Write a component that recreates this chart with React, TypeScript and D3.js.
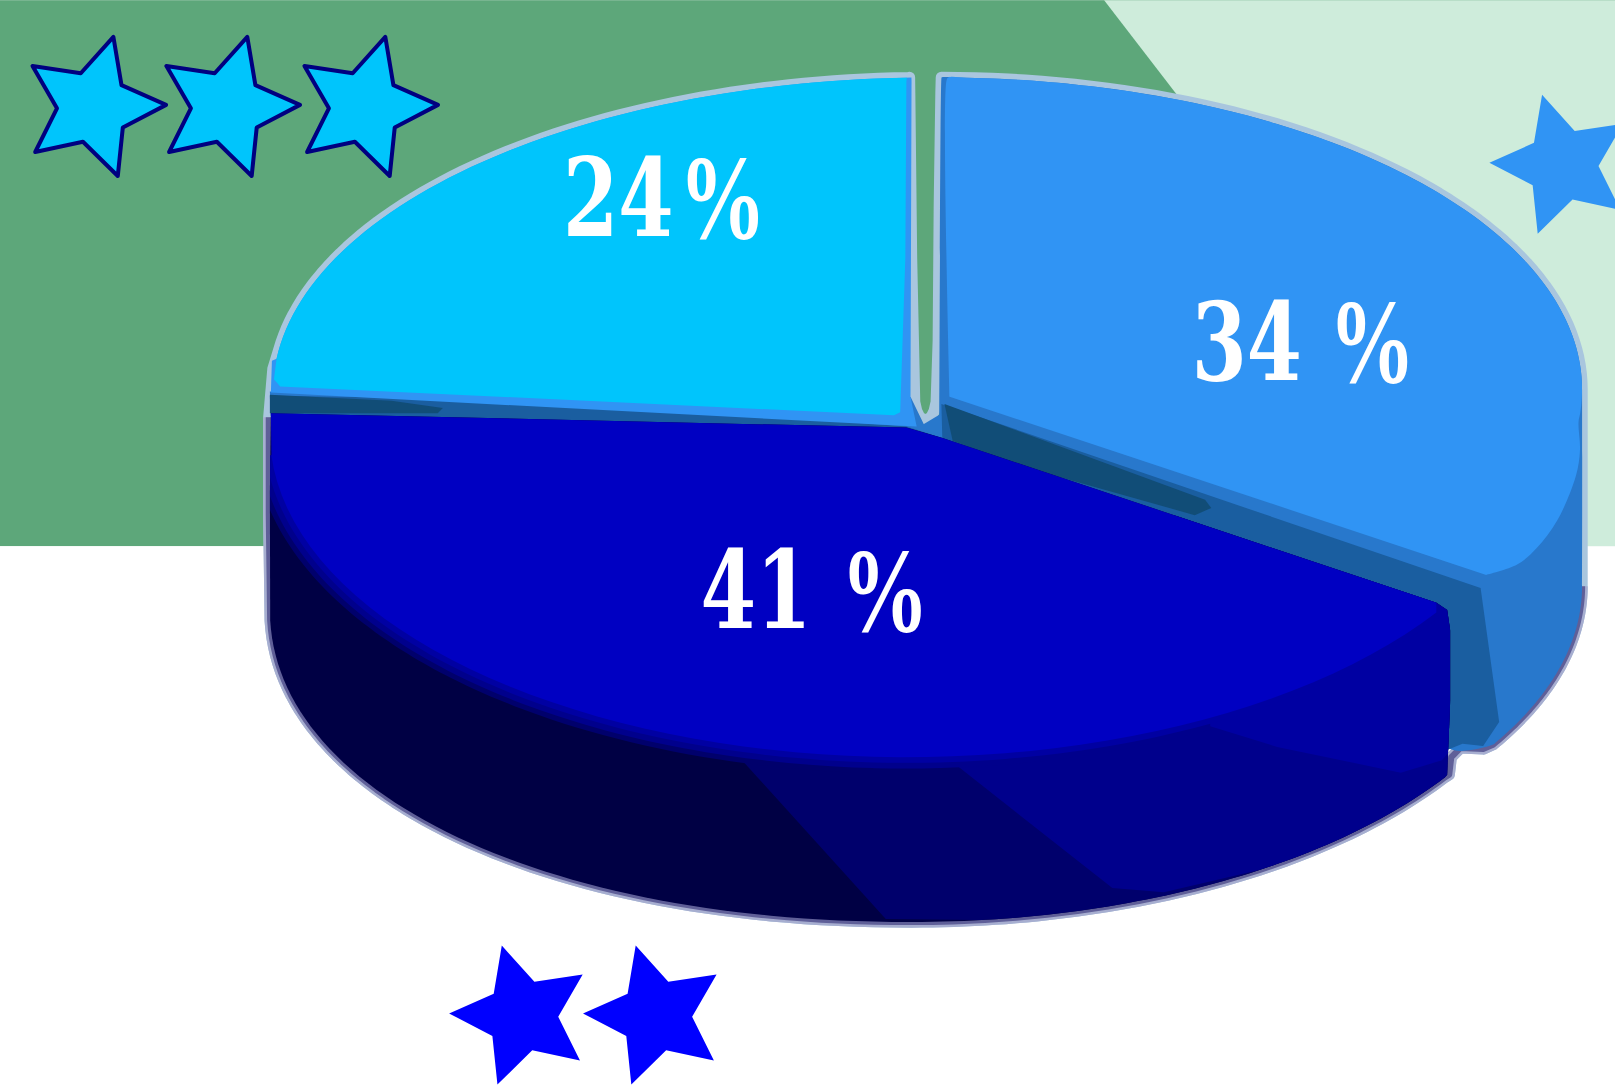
import React from "react";
import * as d3 from "d3";

// ---- data ----
const sliceNames = ["right", "front", "left"];
const sliceValues = [34, 41, 24];
const sliceLabels = ["34 %", "41 %", "24%"];
const starGroups = ["cyan", "azure", "blue"];
const starCounts = [3, 1, 2];

const W = 1568, H = 1056;
const DEG = Math.PI / 180;
type Pt = [number, number];
type Ell = { cx: number; cy: number; a: number; b: number; n?: number };

const pieAngles = d3.pie<number>().sort(null).startAngle(0).endAngle(2 * Math.PI)(sliceValues);

function ellipse({ cx, cy, a, b, n = 2 }: Ell) {
  const x = d3.scaleLinear().domain([-1, 1]).range([cx - a, cx + a]);
  const y = d3.scaleLinear().domain([-1, 1]).range([cy + b, cy - b]);
  const p = (v: number) => Math.sign(v) * Math.pow(Math.abs(v), 2 / n);
  return (t: number): Pt => [x(p(Math.sin(t))), y(p(Math.cos(t)))];
}
function arc(e: Ell, from: number, to: number, n = 60): Pt[] {
  const f = ellipse(e);
  return d3.range(n + 1).map((i) => f(from + ((to - from) * i) / n));
}
const line = d3.line<Pt>().curve(d3.curveCatmullRom.alpha(0.5));
const linear = d3.line<Pt>();
const poly = (p: Pt[]) => d3.line<Pt>()(p) + "Z";
const sm = (p: Pt[]) => line(p) + "Z";

// ellipses of the three tilted slices
const rightTop: Ell = { cx: 912, cy: 378, a: 624, b: 303 };
const rightBot: Ell = { ...rightTop, cy: 569 };
const leftTop: Ell = { cx: 905, cy: 380, a: 640, b: 305 };
const frontTop: Ell = { cx: 880, cy: 420, a: 618, b: 315 };
const frontBotR: Ell = { cx: 885, cy: 580, a: 622, b: 315 };
const frontBotL: Ell = { cx: 885, cy: 590, a: 623, b: 305, n: 2.1 };

const rEnd = pieAngles[0].endAngle;
const fStart = pieAngles[1].startAngle;
const rightCorner = ellipse(rightTop)(rEnd);
const frontCorner = ellipse(frontTop)(fStart);

const notch: Pt[] = [[914, 75], [913.6, 90], [912, 200], [911, 330], [909, 390], [907, 399], [904, 405], [898.5, 408], [893, 405], [890, 399], [888, 390], [885, 250], [883.2, 90], [883, 75]];

const frontBottom: Pt[] = [
  ...arc(frontBotR, fStart, 180 * DEG).slice(0, -1),
  ...arc(frontBotL, 180 * DEG, 268 * DEG),
];
const frontBottomRev: Pt[] = [...frontBottom].reverse();

const silhouette: Pt[] = [
  ...arc(leftTop, 358 * DEG, 279 * DEG),
  [265, 358], [261, 405], [261, 500],
  ...frontBottomRev,
  [1407, 752], [1409, 735], [1418, 726], [1440, 727],
  ...arc(rightBot, 120.5 * DEG, 90 * DEG),
  [1536, 480],
  ...arc(rightTop, 90 * DEG, 0.2 * DEG),
  ...notch,
];
const lowerRim: Pt[] = [
  [261, 405], [261, 500],
  ...frontBottomRev,
  [1407, 752], [1409, 735], [1418, 726], [1440, 727],
  ...arc(rightBot, 120.5 * DEG, 90 * DEG),
];

const rightBase: Pt[] = [
  [912, 418], [914, 76],
  ...arc(rightTop, 0.2 * DEG, 90 * DEG),
  ...arc(rightBot, 90 * DEG, 120.5 * DEG),
  [1405, 725], [1400, 600],
];
const rightFaceArc: Pt[] = arc(rightTop, 0.8 * DEG, 96 * DEG);
const rightFaceTail: Pt[] = [[1534, 437], [1530, 462], [1512, 505], [1492, 532], [1473, 548], [1443, 558]];
const rightFace: Pt[] = [[922, 385], [919, 78], ...rightFaceArc, ...rightFaceTail];
const rightWall: Pt[] = [
  [914, 392],
  [rightCorner[0] + 6, rightCorner[1] + 25],
  [rightCorner[0] + 24, rightCorner[1] + 155],
  [1440, 724], [1420, 722], [1400, 730], [1400, 590], [915, 430],
];
const rightDark: Pt[] = [[917, 392], [1170, 485], [1176, 493], [1160, 500], [1000, 455], [925, 428]];
const apexFill: Pt[] = [[893, 414], [916, 400], [920, 434], [885, 422]];

const leftEdge: Pt[] = [
  [885, 78],
  ...arc(leftTop, 358.2 * DEG, 276 * DEG),
  [264, 350], [263, 381], [890, 414], [884, 385],
];
const leftFace: Pt[] = [
  [880, 79],
  ...arc(leftTop, 357.8 * DEG, 276 * DEG),
  [266, 368], [272, 375], [868, 403], [874, 400], [879, 250],
];
const leftBand: Pt[] = [[262, 380], [870, 405], [884, 385], [900, 418], [915, 432], [263, 404]];
const leftWall: Pt[] = [[262, 384], [534, 388], [880, 414], [915, 425], [915, 432], [263, 404]];
const leftDark: Pt[] = [[262, 383], [380, 389], [430, 396], [425, 401], [262, 401]];

const frontEdge: Pt[] = [[263, 401], [880, 415], [915, 425], [frontCorner[0], 585]];
const frontBody: Pt[] = [
  ...frontEdge,
  [1405, 592], [1408, 612], [1408, 680], [1405, 752],
  ...frontBottom,
  [262, 480],
];
const frontFace: Pt[] = [
  ...frontEdge,
  ...arc(frontTop, fStart, 266 * DEG),
];

const band1: Pt[] = [[715, 732], [860, 892], [1500, 900], [1500, 500], [715, 500]];
const band2: Pt[] = [[925, 740], [1080, 862], [1130, 866], [1500, 780], [1500, 500], [925, 500]];
const band3: Pt[] = [[1175, 705], [1240, 725], [1360, 750], [1400, 738], [1415, 720], [1415, 560], [1175, 560]];

const starPath = (start: number, R = 71, r = 35) =>
  d3.lineRadial<number>()
    .angle((_, i) => (start + i * 36) * DEG)
    .radius((_, i) => (i % 2 === 0 ? R : r))
    .curve(d3.curveLinearClosed)(d3.range(10)) as string;

const starOrigins: Record<string, { x: number; y: number; dx: number[]; start: number; fill: string; stroke: string }> = {
  cyan: { x: 90.3, y: 103.9, dx: [0, 130, 264], start: 16.2, fill: "#00c5fc", stroke: "#000080" },
  azure: { x: 1517, y: 160, dx: [0], start: -16.2, fill: "#3094f4", stroke: "none" },
  blue: { x: 507, y: 986, dx: [0, 130], start: -16.2, fill: "#0000ff", stroke: "none" },
};

const labelBoxes = [
  { x: 1160, w: 101, px: 1292, pw: 80, y: 369 },
  { x: 683, w: 102, px: 818, pw: 82, y: 610 },
  { x: 549.5, w: 101.5, px: 661, pw: 81, y: 229 },
];
const DIGIT_FS = 105, DIGIT_ADV = 0.696 * 2 * DIGIT_FS;
const PCT_FS = 118, PCT_ADV = 1.0 * PCT_FS;

export default function App() {
  return (
    <svg
      width={1615}
      height={1088}
      viewBox={`0 0 ${W} ${H}`}
      style={{ position: "absolute", left: 0, top: 0, display: "block" }}
    >
      <defs>
        <clipPath id="frontClip"><path d={poly(frontBody)} /></clipPath>
      </defs>
      <rect width={W} height={H} fill="#ffffff" />
      <rect width={W} height={530} fill="#5da77a" />
      <polygon points={`1072,0 ${W},0 ${W},530 1480,530`} fill="#ceecdb" />

      {/* stars */}
      {starGroups.map((g, gi) => {
        const o = starOrigins[g];
        return d3.range(starCounts[gi]).map((i) => (
          <path
            key={g + i}
            d={starPath(o.start)}
            transform={`translate(${o.x + o.dx[i]},${o.y})`}
            fill={o.fill}
            stroke={o.stroke}
            strokeWidth={3.9}
            strokeLinejoin="round"
          />
        ));
      })}

      {/* rim */}
      <path d={poly(silhouette)} fill="none" stroke="#a9c6de" strokeWidth={11} strokeLinejoin="round" />
      <path d={linear(lowerRim) as string} fill="none" stroke="#a7aed0" strokeWidth={11} strokeLinejoin="round" />
      <path d={linear(lowerRim) as string} fill="none" stroke="#5f5f98" strokeWidth={6} strokeLinejoin="round" />

      {/* right slice: 34 */}
      <path d={sm(rightBase)} fill="#2878cc" />
      <path d={poly(apexFill)} fill="#2878cc" />
      <path d={poly(rightWall)} fill="#1a5ea0" />
      <path d={poly(rightDark)} fill="#114d77" />
      <path d={sm(rightFace)} fill="#3094f4" />

      {/* left slice: 24 */}
      <path d={poly(leftBand)} fill="#2878cc" />
      <path d={poly(leftWall)} fill="#1a5ea0" />
      <path d={poly(leftDark)} fill="#114d77" />
      <path d={poly(leftEdge)} fill="#3094f4" />
      <path d={poly(leftFace)} fill="#00c5fc" />

      {/* front slice: 41 */}
      <path d={poly(frontBody)} fill="#000044" />
      <g clipPath="url(#frontClip)">
        <path d={poly(band1)} fill="#00006c" />
        <path d={poly(band2)} fill="#00008c" />
        <path d={line(arc(frontTop, 185 * DEG, 266 * DEG)) as string} fill="none" stroke="#00006c" strokeWidth={32} />
        <path d={line(arc(frontTop, 150 * DEG, 266 * DEG)) as string} fill="none" stroke="#00008c" strokeWidth={22} />
        <path d={poly(band3)} fill="#0000a2" />
        <path d={line(arc(frontTop, fStart, 266 * DEG)) as string} fill="none" stroke="#0000a2" strokeWidth={11} />
      </g>
      <path d={poly(frontFace)} fill="#0000c2" />

      {/* labels */}
      {sliceNames.map((n, i) => {
        const b = labelBoxes[i];
        const digits = sliceLabels[i].replace(/[^0-9]/g, "");
        return (
          <g key={n} fill="#ffffff">
            <text
              transform={`translate(${b.x - 3},${b.y}) scale(${(b.w + 6) / DIGIT_ADV},1)`}
              fontFamily="'DejaVu Serif', serif"
              fontWeight="bold"
              fontSize={DIGIT_FS}
            >
              {digits}
            </text>
            <text
              transform={`translate(${b.px - 2},${b.y + 2}) scale(${(b.pw + 4) / PCT_ADV},1)`}
              fontFamily="'Liberation Serif', serif"
              fontWeight="bold"
              fontSize={PCT_FS}
            >
              %
            </text>
          </g>
        );
      })}
    </svg>
  );
}
